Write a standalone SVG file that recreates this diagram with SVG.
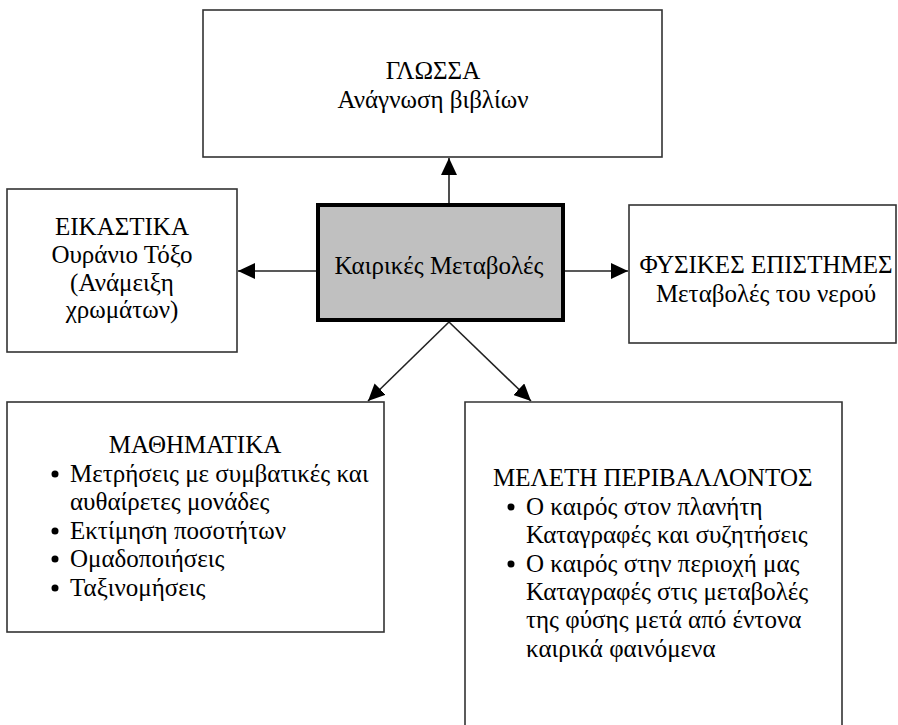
<svg xmlns="http://www.w3.org/2000/svg" width="898" height="725" viewBox="0 0 898 725">
<style>
.box{fill:#fff;stroke:#333;stroke-width:1.6}
.center{fill:#c0c0c0;stroke:#000;stroke-width:4}
.c{text-anchor:middle}
.conn{stroke:#222;stroke-width:1.6;fill:none}
.bul{fill:#000}
</style>
<defs>
<marker id="ah" markerUnits="userSpaceOnUse" markerWidth="18" markerHeight="16" refX="17" refY="8" orient="auto" viewBox="0 0 18 16">
<path d="M0,0 L17,8 L0,16 z" fill="#000"/>
</marker>
</defs>
<rect width="898" height="725" fill="#fff"/>
<g id="connectors">
<line class="conn" x1="449" y1="205" x2="449" y2="158" marker-end="url(#ah)"/>
<line class="conn" x1="318" y1="271" x2="238" y2="271" marker-end="url(#ah)"/>
<line class="conn" x1="563" y1="271" x2="628" y2="271" marker-end="url(#ah)"/>
<line class="conn" x1="449" y1="322" x2="368" y2="401" marker-end="url(#ah)"/>
<line class="conn" x1="449" y1="322" x2="531" y2="401" marker-end="url(#ah)"/>
</g>
<g font-family="Liberation Serif, Times New Roman, serif" font-size="25" fill="#000">
<g id="glossa">
<rect class="box" x="203" y="10" width="459" height="147"/>
<text class="c" x="433" y="79">ΓΛΩΣΣΑ</text>
<text class="c" x="433" y="108">Ανάγνωση βιβλίων</text>
</g>
<g id="kairikes">
<rect class="center" x="318" y="205" width="245" height="115"/>
<text class="c" x="439" y="274">Καιρικές Μεταβολές</text>
</g>
<g id="eikastika">
<rect class="box" x="7" y="189" width="230" height="163"/>
<text class="c" x="122" y="235">ΕΙΚΑΣΤΙΚΑ</text>
<text class="c" x="122" y="263">Ουράνιο Τόξο</text>
<text class="c" x="122" y="291">(Ανάμειξη</text>
<text class="c" x="122" y="318">χρωμάτων)</text>
</g>
<g id="fysikes">
<rect class="box" x="629" y="205" width="267" height="138"/>
<text class="c" x="766" y="273">ΦΥΣΙΚΕΣ ΕΠΙΣΤΗΜΕΣ</text>
<text class="c" x="766" y="302">Μεταβολές του νερού</text>
</g>
<g id="mathimatika">
<rect class="box" x="7" y="402" width="377" height="230"/>
<text class="c" x="195" y="453">ΜΑΘΗΜΑΤΙΚΑ</text>
<circle class="bul" cx="55" cy="474" r="3.5"/>
<text x="70" y="482">Μετρήσεις με συμβατικές και</text>
<text x="70" y="510">αυθαίρετες μονάδες</text>
<circle class="bul" cx="55" cy="531" r="3.5"/>
<text x="70" y="539">Εκτίμηση ποσοτήτων</text>
<circle class="bul" cx="55" cy="559" r="3.5"/>
<text x="70" y="567">Ομαδοποιήσεις</text>
<circle class="bul" cx="55" cy="588" r="3.5"/>
<text x="70" y="596">Ταξινομήσεις</text>
</g>
<g id="meleti">
<path class="box" d="M465,730 V402 H842 V730"/>
<text x="493" y="486">ΜΕΛΕΤΗ ΠΕΡΙΒΑΛΛΟΝΤΟΣ</text>
<circle class="bul" cx="511" cy="507" r="3.5"/>
<text x="526" y="515">Ο καιρός στον πλανήτη</text>
<text x="526" y="543">Καταγραφές και συζητήσεις</text>
<circle class="bul" cx="511" cy="564" r="3.5"/>
<text x="526" y="572">Ο καιρός στην περιοχή μας</text>
<text x="526" y="600">Καταγραφές στις μεταβολές</text>
<text x="526" y="628">της φύσης μετά από έντονα</text>
<text x="526" y="657">καιρικά φαινόμενα</text>
</g>
</g>
</svg>
